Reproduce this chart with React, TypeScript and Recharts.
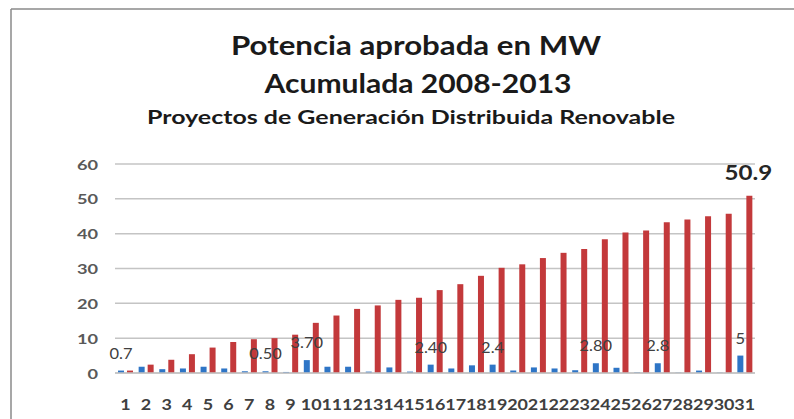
import { Bar, BarChart, CartesianGrid, LabelList, XAxis, YAxis } from 'recharts'

const categories = [
  '1', '2', '3', '4', '5', '6', '7', '8', '9', '10', '11', '12', '13', '14', '15', '16',
  '17', '18', '19', '20', '21', '22', '23', '24', '25', '26', '27', '28', '29', '30', '31',
]

// potencia aprobada por periodo (azul)
const aprobada = [
  0.7, 1.8, 1.1, 1.3, 1.8, 1.3, 0.5, 0.5, 0.3, 3.7, 1.8, 1.8, 0.4, 1.6, 0.4, 2.4,
  1.3, 2.2, 2.4, 0.7, 1.6, 1.3, 0.8, 2.8, 1.5, 0.2, 2.8, 0.1, 0.7, 0.1, 5,
]

// acumulada (rojo)
const acumulada = [
  0.7, 2.4, 3.8, 5.4, 7.3, 8.9, 9.7, 10.0, 11.0, 14.4, 16.5, 18.4, 19.4, 21.0, 21.6, 23.8,
  25.5, 27.9, 30.2, 31.2, 33.0, 34.5, 35.6, 38.4, 40.3, 40.9, 43.3, 44.1, 45.0, 45.7, 50.9,
]

const aprobadaLabels = [
  '0.7', '', '', '', '', '', '', '0.50', '', '3.70', '', '', '', '', '', '2.40',
  '', '', '2.4', '', '', '', '', '2.80', '', '', '2.8', '', '', '', '5',
]

const acumuladaLabels = [
  '', '', '', '', '', '', '', '', '', '', '', '', '', '', '', '',
  '', '', '', '', '', '', '', '', '', '', '', '', '', '', '50.9',
]

const yTicks = [0, 10, 20, 30, 40, 50, 60]

const titles = [
  'Potencia aprobada en MW',
  'Acumulada 2008-2013',
  'Proyectos de Generación Distribuida Renovable',
]

const data = categories.map((cat, i) => ({
  cat,
  aprobada: aprobada[i],
  acumulada: acumulada[i],
  lblA: aprobadaLabels[i],
  lblB: acumuladaLabels[i],
}))

const FONT = 'Lato, "Open Sans", sans-serif'

function Stretch({ x, y, sx, anchor, size, weight, fill, children }: any) {
  return (
    <text
      transform={`translate(${x},${y}) scale(${sx},1)`}
      textAnchor={anchor}
      dominantBaseline="central"
      fontFamily={FONT}
      fontSize={size}
      fontWeight={weight}
      fill={fill}
    >
      {children}
    </text>
  )
}

function YTick(props: any) {
  return (
    <Stretch x={props.x} y={props.y} sx={1.3} anchor="end" size={14} weight={700} fill="#595959">
      {props.payload.value}
    </Stretch>
  )
}

function XTick(props: any) {
  return (
    <Stretch x={props.x} y={props.y} sx={1.12} anchor="middle" size={16} weight={700} fill="#404040">
      {props.payload.value}
    </Stretch>
  )
}

function SmallLabel(props: any) {
  const { x, y, width, value } = props
  if (!value) return null
  return (
    <Stretch x={x + width / 2} y={y - 18} sx={1.1} anchor="middle" size={15} weight={400} fill="#404040">
      {value}
    </Stretch>
  )
}

function BigLabel(props: any) {
  const { x, y, width, value } = props
  if (!value) return null
  return (
    <Stretch x={x + width / 2 - 1} y={y - 24} sx={1.15} anchor="middle" size={21} weight={700} fill="#262626">
      {value}
    </Stretch>
  )
}

export default function App() {
  return (
    <div style={{ position: 'absolute', left: 0, top: 0, width: 794, height: 419, background: '#fff' }}>
      <BarChart
        width={794}
        height={419}
        data={data}
        margin={{ top: 164, right: 39, bottom: 0, left: 0 }}
        barSize={6}
        barGap={3}
      >
        <CartesianGrid vertical={false} stroke="#c4c4c4" strokeWidth={1.5} />
        <XAxis
          dataKey="cat"
          height={46}
          interval={0}
          tickLine={false}
          axisLine={{ stroke: '#c4c4c4', strokeWidth: 1.5 }}
          tickMargin={25}
          tick={<XTick />}
        />
        <YAxis
          width={115}
          domain={[0, 60]}
          ticks={yTicks}
          axisLine={false}
          tickLine={false}
          tickMargin={11}
          tick={<YTick />}
        />
        <Bar dataKey="aprobada" fill="#2e75c6" isAnimationActive={false}>
          <LabelList dataKey="lblA" content={<SmallLabel />} />
        </Bar>
        <Bar dataKey="acumulada" fill="#c3393b" isAnimationActive={false}>
          <LabelList dataKey="lblB" content={<BigLabel />} />
        </Bar>
      </BarChart>
      <svg
        width={794}
        height={419}
        style={{ position: 'absolute', left: 0, top: 0, pointerEvents: 'none' }}
      >
        <line x1={11} y1={9} x2={794} y2={9} stroke="#8a8a8a" strokeWidth={1.5} />
        <line x1={11} y1={9} x2={11} y2={419} stroke="#8a8a8a" strokeWidth={1.5} />
        <text x={416} y={55} textAnchor="middle" textLength={370} lengthAdjust="spacingAndGlyphs"
          fontFamily={FONT} fontSize={26} fontWeight={700} fill="#1a1a1a">{titles[0]}</text>
        <text x={418} y={93} textAnchor="middle" textLength={307} lengthAdjust="spacingAndGlyphs"
          fontFamily={FONT} fontSize={26} fontWeight={700} fill="#1a1a1a">{titles[1]}</text>
        <text x={411} y={124} textAnchor="middle" textLength={528} lengthAdjust="spacingAndGlyphs"
          fontFamily={FONT} fontSize={19.5} fontWeight={700} fill="#1a1a1a">{titles[2]}</text>
      </svg>
    </div>
  )
}
